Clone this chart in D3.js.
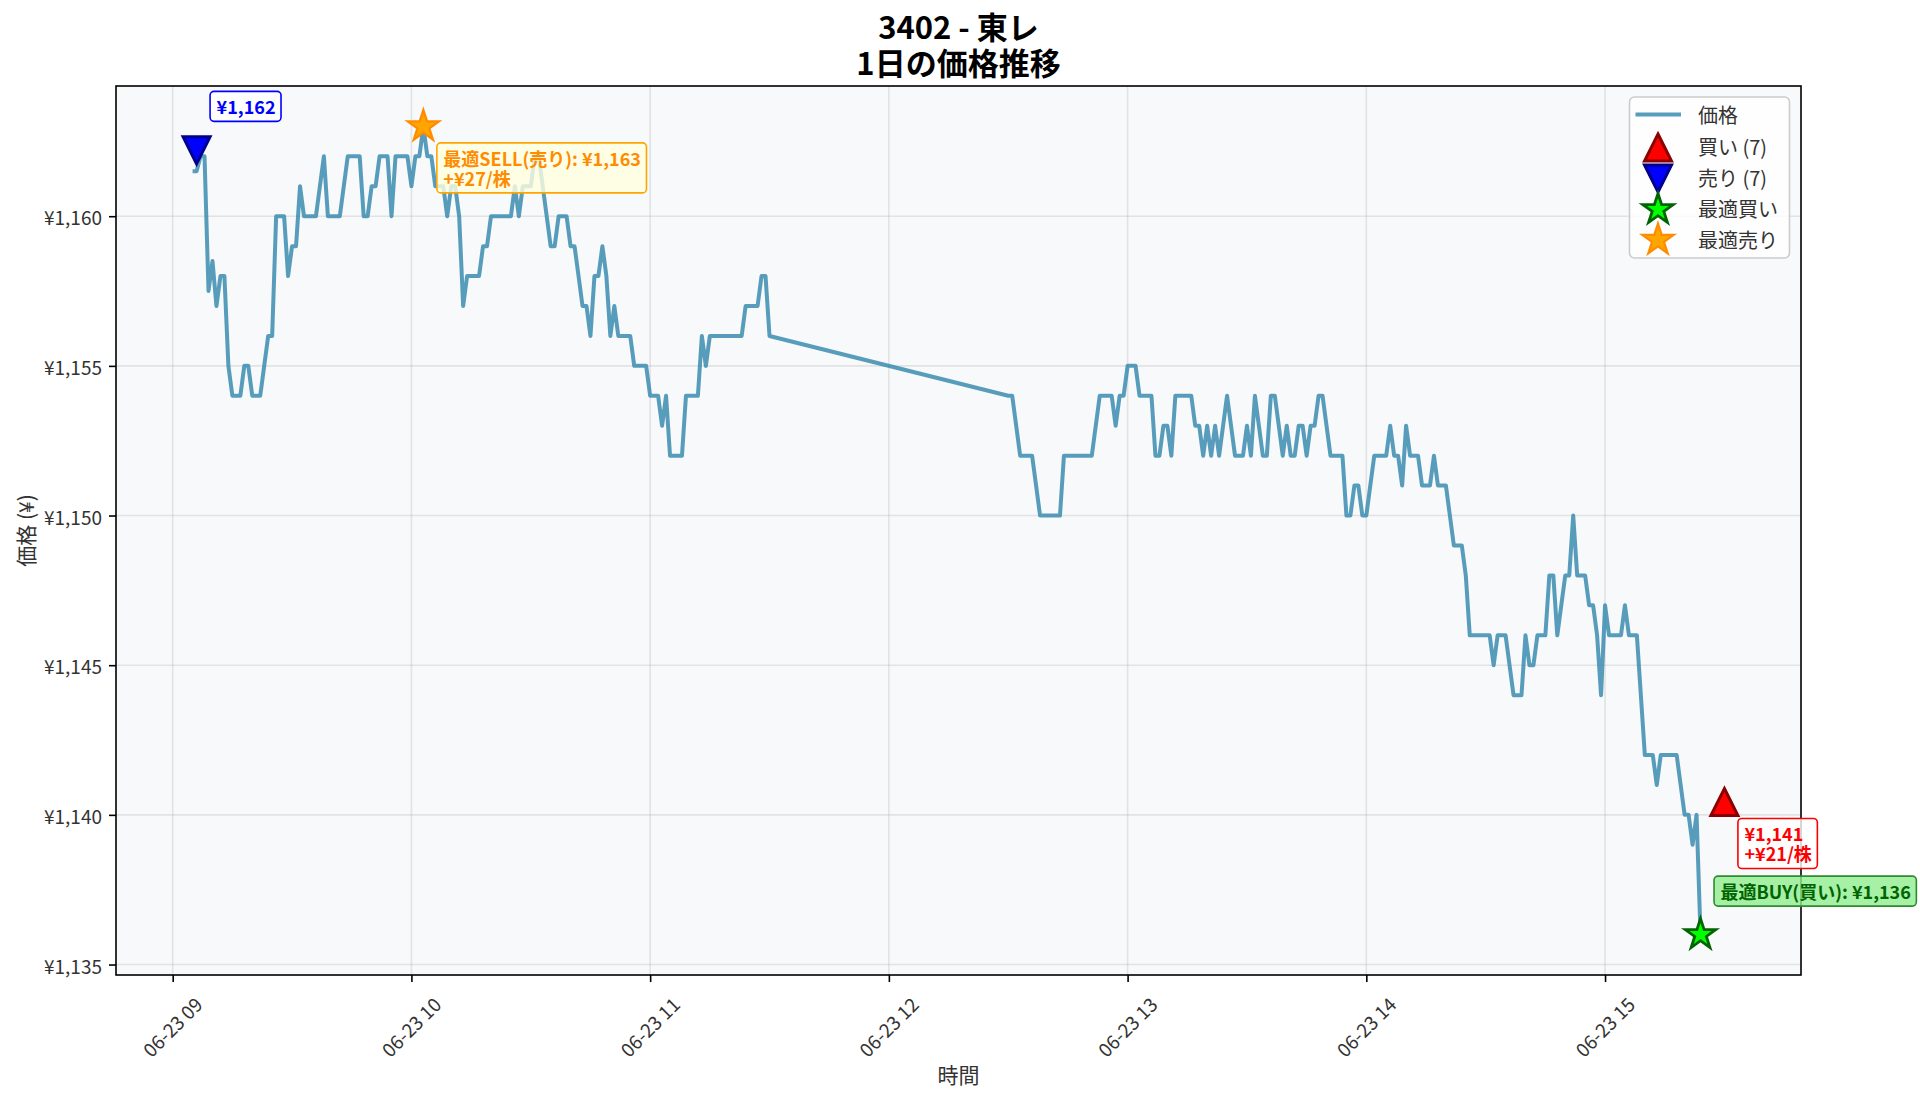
<!DOCTYPE html>
<html><head><meta charset="utf-8">
<script src="https://cdn.jsdelivr.net/npm/d3@7"></script>
<style>
body{margin:0;background:#fff}
svg text{font-family:"Noto Sans CJK JP","Noto Sans",sans-serif}
</style>
</head><body>
<svg id="chart" width="1920" height="1101"></svg>
<script>
// ---------------- data ----------------
const tradeDate = "2025-06-23";
const chartTitle = ["3402 - 東レ", "1日の価格推移"];
const xAxisLabel = "時間";
const yAxisLabel = "価格 (¥)";

// 1-minute closes, morning session starting 09:05
const morningStart = "09:05";
const morningPrices = [
  1161.5,1161.5,1162,1162,1157.5,1158.5,1157,1158,1158,1155,
  1154,1154,1154,1155,1155,1154,1154,1154,1155,1156,
  1156,1160,1160,1160,1158,1159,1159,1161,1160,1160,
  1160,1160,1161,1162,1160,1160,1160,1160,1161,1162,
  1162,1162,1162,1160,1160,1161,1161,1162,1162,1162,
  1160,1162,1162,1162,1162,1161,1162,1162,1163,1162,
  1162,1161,1161,1161,1160,1161,1161,1160,1157,1158,
  1158,1158,1158,1159,1159,1160,1160,1160,1160,1160,
  1160,1161,1160,1161,1161,1161,1162,1162,1161,1160,
  1159,1159,1160,1160,1160,1159,1159,1158,1157,1157,
  1156,1158,1158,1159,1158,1156,1157,1156,1156,1156,
  1156,1155,1155,1155,1155,1154,1154,1154,1153,1154,
  1152,1152,1152,1152,1154,1154,1154,1154,1156,1155,
  1156,1156,1156,1156,1156,1156,1156,1156,1156,1157,
  1157,1157,1157,1158,1158,1156
];
// 1-minute closes, afternoon session starting 12:30
const afternoonStart = "12:30";
const afternoonPrices = [
  1154,1154,1153,1152,1152,1152,1152,1151,1150,1150,
  1150,1150,1150,1150,1152,1152,1152,1152,1152,1152,
  1152,1152,1153,1154,1154,1154,1154,1153,1154,1154,
  1155,1155,1155,1154,1154,1154,1154,1152,1152,1153,
  1153,1152,1154,1154,1154,1154,1154,1153,1153,1152,
  1153,1152,1153,1152,1153,1154,1153,1152,1152,1152,
  1153,1152,1154,1153,1152,1152,1154,1154,1153,1152,
  1153,1152,1152,1153,1153,1152,1153,1153,1154,1154,
  1153,1152,1152,1152,1152,1150,1150,1151,1151,1150,
  1150,1151,1152,1152,1152,1152,1153,1152,1152,1151,
  1153,1152,1152,1152,1151,1151,1151,1152,1151,1151,
  1151,1150,1149,1149,1149,1148,1146,1146,1146,1146,
  1146,1146,1145,1146,1146,1146,1145,1144,1144,1144,
  1146,1145,1145,1146,1146,1146,1148,1148,1146,1147,
  1148,1148,1150,1148,1148,1148,1147,1147,1146,1144,
  1147,1146,1146,1146,1146,1147,1146,1146,1146,1144,
  1142,1142,1142,1141,1142,1142,1142,1142,1142,1141,
  1140,1140,1139,1140,1136
];

// trade signals
const buyTimes = ["15:30"];
const buyPrices = [1140.43];
const buyLabels = [["¥1,141", "+¥21/株"]];
const sellTimes = ["09:06"];
const sellPrices = [1162.2];
const sellLabels = [["¥1,162"]];
const bestBuyTime = "15:24";
const bestBuyPrice = 1136;
const bestBuyLabel = ["最適BUY(買い): ¥1,136"];
const bestSellTime = "10:03";
const bestSellPrice = 1163;
const bestSellLabel = ["最適SELL(売り): ¥1,163", "+¥27/株"];

const yTickValues = [1135, 1140, 1145, 1150, 1155, 1160];
const xTickTimes = ["09:00","10:00","11:00","12:00","13:00","14:00","15:00"];
const legendLabels = ["価格", "買い (7)", "売り (7)", "最適買い", "最適売り"];

// ---------------- helpers ----------------
const parse = d3.timeParse("%Y-%m-%d %H:%M");
const at = hm => parse(`${tradeDate} ${hm}`);
function session(start, prices) {
  const t0 = at(start);
  return prices.map((p, i) => ({ t: d3.timeMinute.offset(t0, i), p }));
}
const series = session(morningStart, morningPrices).concat(session(afternoonStart, afternoonPrices));

const W = 1920, H = 1101;
const L = 116, R = 1801, T = 86, B = 975;
const svg = d3.select("#chart");
svg.append("rect").attr("width", W).attr("height", H).attr("fill", "#fff");

// extents including markers, matplotlib-like 5% margins
const allT = series.map(d => d.t).concat(buyTimes.map(at), sellTimes.map(at), [at(bestBuyTime), at(bestSellTime)]);
const allP = series.map(d => d.p).concat(buyPrices, sellPrices, [bestBuyPrice, bestSellPrice]);
const [tMin, tMax] = d3.extent(allT);
const [pMin, pMax] = d3.extent(allP);
const tPad = (tMax - tMin) * 0.05, pPad = (pMax - pMin) * 0.05;
const x = d3.scaleTime().domain([new Date(+tMin - tPad), new Date(+tMax + tPad)]).range([L, R]);
const y = d3.scaleLinear().domain([pMin - pPad, pMax + pPad]).range([B, T]);

// plot background
svg.append("rect").attr("x", L).attr("y", T).attr("width", R - L).attr("height", B - T).attr("fill", "#f8f9fa");

// grid
const grid = svg.append("g");
grid.selectAll(".gx").data(xTickTimes.map(at)).join("line")
  .attr("x1", d => x(d)).attr("x2", d => x(d)).attr("y1", T).attr("y2", B)
  .attr("stroke", "#b0b0b0").attr("stroke-opacity", 0.3).attr("stroke-width", 1.6);
grid.selectAll(".gy").data(yTickValues).join("line")
  .attr("y1", d => y(d)).attr("y2", d => y(d)).attr("x1", L).attr("x2", R)
  .attr("stroke", "#b0b0b0").attr("stroke-opacity", 0.3).attr("stroke-width", 1.6);

// price line
svg.append("path").datum(series)
  .attr("d", d3.line().x(d => x(d.t)).y(d => y(d.p)))
  .attr("fill", "none").attr("stroke", "#2E86AB").attr("stroke-opacity", 0.8)
  .attr("stroke-width", 4).attr("stroke-linejoin", "round");

// marker shapes
const triUp = h => `M0,${-h}L${h},${h}L${-h},${h}Z`;
const triDown = h => `M0,${h}L${h},${-h}L${-h},${-h}Z`;
function star(r) {
  const pts = [];
  for (let i = 0; i < 10; i++) {
    const rr = i % 2 === 0 ? r : r * 0.381966;
    const a = -Math.PI / 2 + i * Math.PI / 5;
    pts.push([rr * Math.cos(a), rr * Math.sin(a)]);
  }
  return "M" + pts.map(p => p.join(",")).join("L") + "Z";
}
const styles = {
  buy: { d: triUp(13.5), fill: "#ff0000", stroke: "#8b0000", sw: 3 },
  sell: { d: triDown(13.5), fill: "#0000ff", stroke: "#00008b", sw: 3 },
  bestBuy: { d: star(16), fill: "#00ff00", stroke: "#006400", sw: 2.8 },
  bestSell: { d: star(16.5), fill: "#ffa500", stroke: "#ff8c00", sw: 2.2 }
};
function marker(g, st, cx, cy) {
  g.append("path").attr("d", st.d).attr("transform", `translate(${cx},${cy})`)
    .attr("fill", st.fill).attr("stroke", st.stroke).attr("stroke-width", st.sw).attr("stroke-linejoin", "miter");
}
const mk = svg.append("g");
buyTimes.forEach((t, i) => marker(mk, styles.buy, x(at(t)), y(buyPrices[i])));
sellTimes.forEach((t, i) => marker(mk, styles.sell, x(at(t)), y(sellPrices[i])));
marker(mk, styles.bestBuy, x(at(bestBuyTime)), y(bestBuyPrice));
marker(mk, styles.bestSell, x(at(bestSellTime)), y(bestSellPrice));

// axes
const gx = svg.append("g").attr("transform", `translate(0,${B})`)
  .call(d3.axisBottom(x).tickValues(xTickTimes.map(at)).tickFormat(d3.timeFormat("%m-%d %H")).tickSize(7).tickSizeOuter(0));
gx.attr("font-family", null).attr("font-size", null);
gx.select(".domain").remove();
gx.selectAll(".tick line").attr("stroke", "#000").attr("stroke-width", 1.6);
gx.selectAll(".tick text").attr("font-size", 19).attr("fill", "#333")
  .each(function () {
    const w = this.getComputedTextLength();
    const yc = (994 - B) + (w + 13) * 0.7071 / 2;
    d3.select(this).attr("y", 0).attr("x", -2).attr("dy", null)
      .attr("text-anchor", "middle").attr("dominant-baseline", "central")
      .attr("transform", `translate(0,${yc}) rotate(-45)`);
  });

const gy = svg.append("g").attr("transform", `translate(${L},0)`)
  .call(d3.axisLeft(y).tickValues(yTickValues).tickFormat(d => "¥" + d3.format(",")(d)).tickSize(7).tickSizeOuter(0));
gy.attr("font-family", null).attr("font-size", null);
gy.select(".domain").remove();
gy.selectAll(".tick line").attr("stroke", "#000").attr("stroke-width", 1.6);
gy.selectAll(".tick text").attr("font-size", 19).attr("fill", "#333")
  .attr("x", -14).attr("dy", null).attr("dominant-baseline", "central");

// spines
svg.append("rect").attr("x", L).attr("y", T).attr("width", R - L).attr("height", B - T)
  .attr("fill", "none").attr("stroke", "#000").attr("stroke-width", 1.6);

// axis labels
svg.append("text").attr("x", (L + R) / 2).attr("y", 1074).attr("text-anchor", "middle")
  .attr("dominant-baseline", "central").attr("font-size", 21).attr("fill", "#333").text(xAxisLabel);
svg.append("text").attr("transform", `translate(24.5,${(T + B) / 2}) rotate(-90)`).attr("text-anchor", "middle")
  .attr("dominant-baseline", "central").attr("font-size", 21).attr("fill", "#333").text(yAxisLabel);

// title
chartTitle.forEach((s, i) => {
  svg.append("text").attr("x", (L + R) / 2).attr("y", 39 + i * 35.5).attr("text-anchor", "middle")
    .attr("font-size", 31).attr("font-weight", "bold").attr("fill", "#000").text(s);
});

// legend
const lg = svg.append("g");
lg.append("rect").attr("x", 1629.5).attr("y", 97).attr("width", 160).attr("height", 161).attr("rx", 5)
  .attr("fill", "#fff").attr("fill-opacity", 0.8).attr("stroke", "#cccccc").attr("stroke-width", 1.6);
const rowY = [114.5, 146, 177, 208.5, 239];
lg.append("line").attr("x1", 1635.5).attr("x2", 1681).attr("y1", rowY[0]).attr("y2", rowY[0])
  .attr("stroke", "#2E86AB").attr("stroke-opacity", 0.8).attr("stroke-width", 4);
marker(lg, styles.buy, 1658, rowY[1] + 1.5);
marker(lg, styles.sell, 1658, rowY[2] + 1.5);
marker(lg, styles.bestBuy, 1658, rowY[3] + 1);
marker(lg, styles.bestSell, 1658, rowY[4] + 1);
legendLabels.forEach((s, i) => {
  lg.append("text").attr("x", 1698).attr("y", rowY[i]).attr("dominant-baseline", "central")
    .attr("font-size", 20).attr("fill", "#333").text(s);
});

// annotations
function annotate(px, py, lines, dy, color, fill, stroke, fillOpacity) {
  const g = svg.append("g");
  const tx = px + 20, lh = 20;
  const first = py + dy;
  const box = g.append("rect");
  const texts = lines.map((s, i) => g.append("text").attr("x", tx).attr("y", first + i * lh)
    .attr("dominant-baseline", "central").attr("font-size", 18).attr("font-weight", "bold")
    .attr("fill", color).text(s));
  const w = d3.max(texts, t => t.node().getComputedTextLength());
  const top = first - 15, bottom = first + (lines.length - 1) * lh + 15;
  box.attr("x", tx - 6.5).attr("y", top).attr("width", w + 12).attr("height", bottom - top).attr("rx", 4)
    .attr("fill", fill).attr("fill-opacity", fillOpacity).attr("stroke", stroke).attr("stroke-width", 1.6);
}
sellTimes.forEach((t, i) => {
  const n = sellLabels[i].length;
  annotate(x(at(t)), y(sellPrices[i]), sellLabels[i], -44 - (n - 1) * 20, "#0000ff", "#ffffff", "#0000ff", 0.8);
});
buyTimes.forEach((t, i) => annotate(x(at(t)), y(buyPrices[i]), buyLabels[i], 31.5, "#ff0000", "#ffffff", "#ff0000", 0.8));
annotate(x(at(bestSellTime)), y(bestSellPrice), bestSellLabel, 31.5, "#ff8c00", "#ffffe0", "#ffa500", 0.8);
annotate(x(at(bestBuyTime)), y(bestBuyPrice), bestBuyLabel, -43.5, "#006400", "#90ee90", "#2e8b2e", 0.8);
</script>
</body></html>
